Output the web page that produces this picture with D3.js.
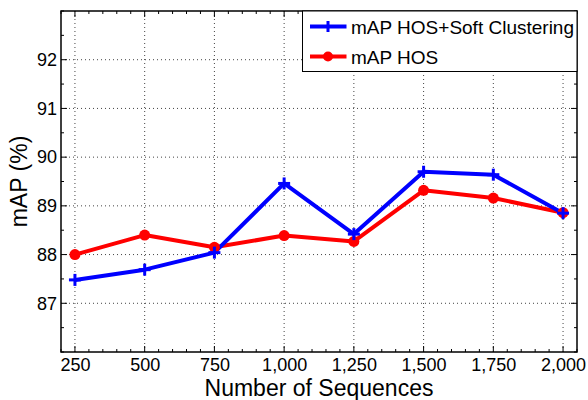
<!DOCTYPE html>
<html><head><meta charset="utf-8">
<script src="https://cdn.jsdelivr.net/npm/d3@7"></script>
<style>body{margin:0;background:#fff}svg{display:block}text{font-family:"Liberation Sans",Arial,sans-serif}</style>
</head><body>
<svg id="c" width="588" height="400"></svg>
<script>
const sequences = [250, 500, 750, 1000, 1250, 1500, 1750, 2000];
const mapHosSoft = [87.48, 87.69, 88.04, 89.46, 88.42, 89.70, 89.64, 88.85];
const mapHos = [88.00, 88.40, 88.15, 88.39, 88.27, 89.32, 89.16, 88.86];
const yTicks = [87, 88, 89, 90, 91, 92];
const xTickLabels = ["250", "500", "750", "1,000", "1,250", "1,500", "1,750", "2,000"];
const seriesNames = ["mAP HOS+Soft Clustering", "mAP HOS"];

const FONT = "Liberation Sans, Arial, sans-serif";
const svg = d3.select("#c");
const L = 61, R = 577, T = 11, B = 352;
const x = d3.scaleLinear().domain([200, 2050]).range([L, R]);
const y = d3.scaleLinear().domain([86, 93]).range([B, T]);

// grid
const g = svg.append("g");
g.selectAll(".gx").data(sequences).enter().append("line")
  .attr("x1", d => x(d)).attr("x2", d => x(d)).attr("y1", T).attr("y2", B)
  .attr("stroke", "#444").attr("stroke-width", 1).attr("stroke-dasharray", "1,3");
g.selectAll(".gy").data(yTicks).enter().append("line")
  .attr("y1", d => y(d)).attr("y2", d => y(d)).attr("x1", L).attr("x2", R)
  .attr("stroke", "#444").attr("stroke-width", 1).attr("stroke-dasharray", "1,3");

// minor/major ticks inward on all sides
const minorX = d3.range(200, 2051, 50);
const minorY = d3.range(86, 93.01, 0.5);
const tk = svg.append("g").attr("stroke", "#000").attr("stroke-width", 1);
minorX.forEach(v => {
  const len = sequences.includes(v) ? 6 : 3;
  tk.append("line").attr("x1", x(v)).attr("x2", x(v)).attr("y1", B).attr("y2", B - len);
  tk.append("line").attr("x1", x(v)).attr("x2", x(v)).attr("y1", T).attr("y2", T + len);
});
minorY.forEach(v => {
  const len = yTicks.includes(Math.round(v*10)/10) ? 6 : 3;
  tk.append("line").attr("y1", y(v)).attr("y2", y(v)).attr("x1", L).attr("x2", L + len);
  tk.append("line").attr("y1", y(v)).attr("y2", y(v)).attr("x1", R).attr("x2", R - len);
});

// frame
svg.append("rect").attr("x", L).attr("y", T).attr("width", R - L).attr("height", B - T)
  .attr("fill", "none").attr("stroke", "#000").attr("stroke-width", 1.5);

// tick labels
const xAxis = d3.axisBottom(x).tickValues(sequences).tickSize(0).tickPadding(6)
  .tickFormat((d, i) => xTickLabels[i]);
const xa = svg.append("g").attr("transform", `translate(0,${B})`).call(xAxis);
xa.attr("font-size", 18).attr("font-family", FONT);
xa.select(".domain").remove();
xa.selectAll("text").attr("fill", "#000").style("font-size", "18px");
const yAxis = d3.axisLeft(y).tickValues(yTicks).tickSize(0).tickPadding(4).tickFormat(d3.format("d"));
const ya = svg.append("g").attr("transform", `translate(${L},0)`).call(yAxis);
ya.attr("font-size", 18).attr("font-family", FONT);
ya.select(".domain").remove();
ya.selectAll("text").attr("fill", "#000").style("font-size", "18px");

// axis titles
svg.append("text").attr("x", (L + R) / 2).attr("y", 396).attr("text-anchor", "middle")
  .attr("font-size", 23).text("Number of Sequences");
svg.append("text").attr("transform", `translate(27,${(T + B) / 2}) rotate(-90)`)
  .attr("text-anchor", "middle").attr("font-size", 23).text("mAP (%)");

// lines
const line = d3.line().x((d, i) => x(sequences[i])).y(d => y(d));
svg.append("path").datum(mapHos).attr("d", line).attr("fill", "none")
  .attr("stroke", "#ff0000").attr("stroke-width", 4).attr("stroke-linejoin", "round");
svg.append("path").datum(mapHosSoft).attr("d", line).attr("fill", "none")
  .attr("stroke", "#0000ff").attr("stroke-width", 4).attr("stroke-linejoin", "round");

// markers
svg.selectAll(".rc").data(mapHos).enter().append("circle")
  .attr("cx", (d, i) => x(sequences[i])).attr("cy", d => y(d)).attr("r", 5.5).attr("fill", "#ff0000");
const plus = (sel, cx, cy, s, col) => {
  sel.append("line").attr("x1", cx - s).attr("x2", cx + s).attr("y1", cy).attr("y2", cy).attr("stroke", col).attr("stroke-width", 3);
  sel.append("line").attr("x1", cx).attr("x2", cx).attr("y1", cy - s).attr("y2", cy + s).attr("stroke", col).attr("stroke-width", 3);
};
const pg = svg.append("g");
mapHosSoft.forEach((d, i) => plus(pg, x(sequences[i]), y(d), 6, "#0000ff"));

// legend
const lg = svg.append("g");
lg.append("rect").attr("x", 302.5).attr("y", T).attr("width", R - 302.5).attr("height", 60.5)
  .attr("fill", "#fff").attr("stroke", "#000").attr("stroke-width", 1);
const ly = [26.5, 56.5];
lg.append("line").attr("x1", 310).attr("x2", 346.5).attr("y1", ly[0]).attr("y2", ly[0]).attr("stroke", "#0000ff").attr("stroke-width", 4);
plus(lg, 328, ly[0], 5.5, "#0000ff");
lg.append("line").attr("x1", 310).attr("x2", 346.5).attr("y1", ly[1]).attr("y2", ly[1]).attr("stroke", "#ff0000").attr("stroke-width", 4);
lg.append("circle").attr("cx", 328).attr("cy", ly[1]).attr("r", 5).attr("fill", "#ff0000");
lg.selectAll(".lt").data(seriesNames).enter().append("text")
  .attr("x", 351).attr("y", (d, i) => ly[i] + 7).attr("font-size", 19).text(d => d);
</script>
</body></html>
